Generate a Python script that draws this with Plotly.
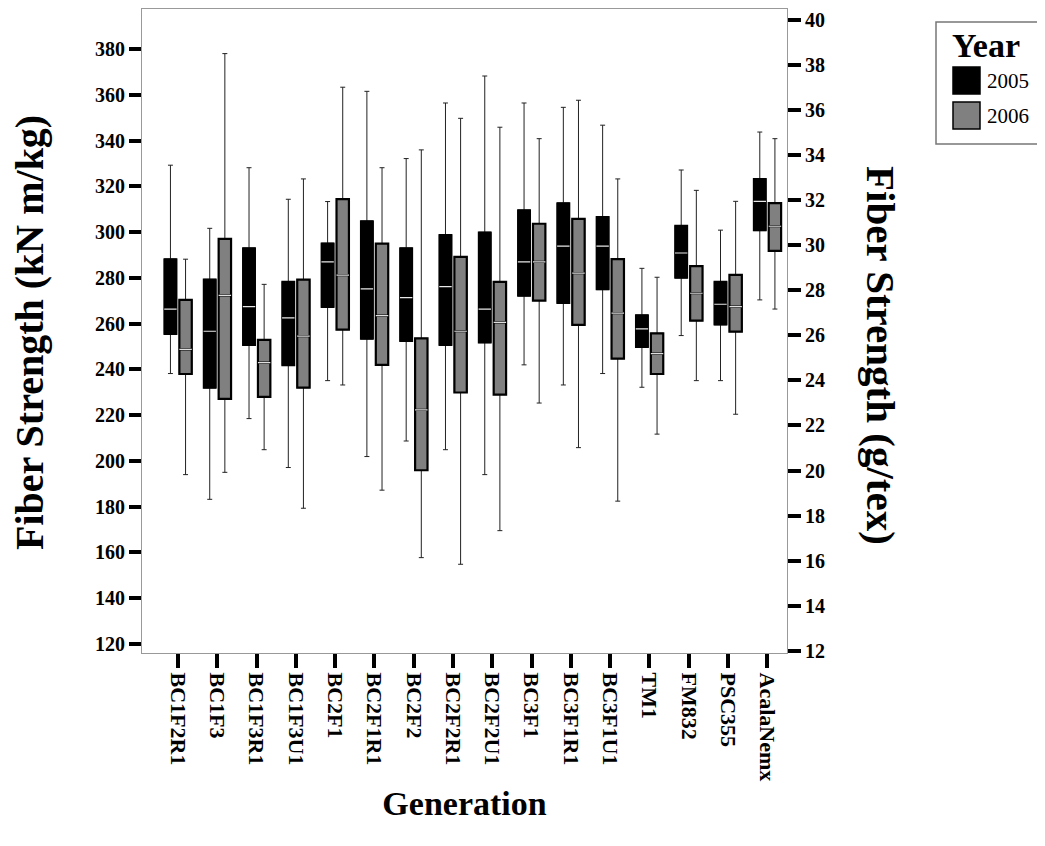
import plotly.graph_objects as go

# ---------------- data (kN m/kg) ----------------
generations = ["BC1F2R1", "BC1F3", "BC1F3R1", "BC1F3U1", "BC2F1", "BC2F1R1", "BC2F2",
               "BC2F2R1", "BC2F2U1", "BC3F1", "BC3F1R1", "BC3F1U1", "TM1", "FM832",
               "PSC355", "AcalaNemx"]

upper_2005 = [329.3, 301.7, 328.2, 314.4, 313.4, 361.6, 332.2, 356.5, 368.3, 356.5, 354.6, 346.8, 284.2, 327.2, 300.9, 343.8]
q3_2005    = [288.3, 279.4, 293.1, 278.4, 295.2, 304.9, 293.1, 298.9, 300.0, 309.7, 312.8, 306.8, 263.8, 302.9, 278.4, 323.4]
med_2005   = [266.4, 256.7, 267.5, 262.5, 287.0, 275.2, 271.4, 276.2, 266.4, 287.0, 293.9, 293.9, 257.7, 290.9, 268.5, 313.5]
q1_2005    = [255.4, 231.9, 250.6, 241.7, 267.2, 253.3, 252.3, 250.6, 251.7, 272.1, 268.9, 274.9, 249.7, 280.0, 259.5, 300.7]
lower_2005 = [238.2, 183.2, 218.5, 197.1, 235.1, 201.9, 208.7, 204.9, 194.0, 242.0, 233.2, 238.2, 232.2, 254.8, 235.1, 270.4]

upper_2006 = [288.2, 378.1, 277.2, 323.3, 363.4, 328.2, 336.0, 349.8, 345.9, 340.9, 357.7, 323.3, 280.3, 318.3, 313.5, 340.9]
q3_2006    = [270.4, 297.1, 252.9, 279.3, 314.5, 295.0, 253.6, 289.2, 278.3, 303.7, 305.8, 288.2, 255.8, 285.2, 281.3, 312.7]
med_2006   = [248.8, 272.4, 243.0, 254.6, 281.2, 263.5, 222.3, 256.7, 260.6, 287.0, 282.1, 264.6, 246.9, 273.3, 267.5, 302.6]
q1_2006    = [238.0, 227.1, 228.0, 232.0, 257.4, 242.0, 195.9, 229.9, 229.0, 270.1, 259.5, 244.7, 238.0, 261.3, 256.5, 291.8]
lower_2006 = [194.0, 195.0, 204.9, 179.3, 233.2, 187.2, 157.7, 154.8, 169.5, 225.3, 205.8, 182.4, 211.7, 235.1, 220.4, 266.4]

left_ticks = list(range(120, 381, 20))
right_ticks = list(range(12, 41, 2))
years = ["2005", "2006"]

FONT = "Liberation Serif"
W, H = 1045, 846
OFF = 8  # page offset of the figure in the browser window
ML, MR, MT, MB = 134, 266, 1, 201
PW, PH = W - ML - MR, H - MT - MB


def px(x):
    """screen x -> paper x"""
    return (x - OFF - ML) / PW


def py(y):
    """screen y -> paper y"""
    return (H - MB - (y - OFF)) / PH


series = {
    "2005": dict(up=upper_2005, q3=q3_2005, med=med_2005, q1=q1_2005, lo=lower_2005,
                 fill="#000000", lw=1.5, medc="#e8e8e8"),
    "2006": dict(up=upper_2006, q3=q3_2006, med=med_2006, q1=q1_2006, lo=lower_2006,
                 fill="#808080", lw=2.2, medc="#e0e0e0"),
}

fig = go.Figure()

# whiskers
for yr in years:
    s = series[yr]
    fig.add_trace(go.Box(
        x=generations, q1=s["q1"], median=s["med"], q3=s["q3"],
        lowerfence=s["lo"], upperfence=s["up"],
        offsetgroup=yr, name=yr, showlegend=False,
        fillcolor="rgba(0,0,0,0)", line=dict(color="#222222", width=1),
        whiskerwidth=0.4, boxpoints=False, hoverinfo="skip"))

# boxes
for yr in years:
    s = series[yr]
    fig.add_trace(go.Box(
        x=generations, q1=s["q1"], median=s["med"], q3=s["q3"],
        lowerfence=s["q1"], upperfence=s["q3"],
        offsetgroup=yr, name=yr, showlegend=False,
        fillcolor=s["fill"], line=dict(color="#000000", width=s["lw"]),
        whiskerwidth=0, boxpoints=False))

# median lines
for yr in years:
    s = series[yr]
    fig.add_trace(go.Box(
        x=generations, q1=s["med"], median=s["med"], q3=s["med"],
        lowerfence=s["med"], upperfence=s["med"],
        offsetgroup=yr, name=yr, showlegend=False,
        fillcolor="rgba(0,0,0,0)", line=dict(color=s["medc"], width=1.2),
        whiskerwidth=0, boxpoints=False, hoverinfo="skip"))

# dummy trace for the right axis
fig.add_trace(go.Scatter(x=[generations[0]], y=[None], yaxis="y2",
                         showlegend=False, hoverinfo="skip"))

ytickfont = dict(family=FONT, size=20, color="black", weight="bold")
xtickfont = dict(family=FONT, size=22, color="black", weight="bold")

fig.update_layout(
    width=W, height=H,
    margin=dict(l=ML, r=MR, t=MT, b=MB),
    paper_bgcolor="white", plot_bgcolor="white",
    boxmode="group", boxgap=0.23, boxgroupgap=0.18,
    showlegend=False,
    font=dict(family=FONT, color="black"),
    xaxis=dict(
        type="category", categoryorder="array", categoryarray=generations,
        tickangle=90, tickfont=xtickfont,
        ticks="outside", ticklen=14, tickwidth=4, tickcolor="black",
        showline=True, linecolor="#999999", linewidth=1.2, mirror=True,
        showgrid=False, zeroline=False,
        title=dict(text="Generation", font=dict(family=FONT, size=34, weight="bold"),
                   standoff=10),
    ),
    yaxis=dict(
        range=[116, 397.6], tickvals=left_ticks, tickfont=ytickfont,
        ticks="outside", ticklen=12, tickwidth=4, tickcolor="black",
        showline=True, linecolor="#999999", linewidth=1.2, mirror=True,
        showgrid=False, zeroline=False,
    ),
    yaxis2=dict(
        overlaying="y", side="right", anchor="x",
        range=[11.9, 40.49], tickvals=right_ticks, tickfont=ytickfont,
        ticks="outside", ticklen=13, tickwidth=4, tickcolor="black",
        showline=True, linecolor="#999999", linewidth=1.2,
        showgrid=False, zeroline=False,
    ),
)

# left axis title (reads bottom to top)
fig.add_annotation(text="<b>Fiber Strength (kN m/kg)</b>", xref="paper", yref="paper",
                   x=px(30), y=py(333), showarrow=False, textangle=-90,
                   font=dict(family=FONT, size=40, color="black"),
                   xanchor="center", yanchor="middle")

# right axis title (reads top to bottom)
fig.add_annotation(text="<b>Fiber Strength (g/tex)</b>", xref="paper", yref="paper",
                   x=px(881), y=py(355), showarrow=False, textangle=90,
                   font=dict(family=FONT, size=41, color="black"),
                   xanchor="center", yanchor="middle")

# legend (Year)
fig.add_shape(type="rect", xref="paper", yref="paper",
              x0=px(936), x1=px(1043), y0=py(144), y1=py(22),
              line=dict(color="#777777", width=1.5), fillcolor="white")
fig.add_annotation(text="<b>Year</b>", xref="paper", yref="paper",
                   x=px(950), y=py(46), showarrow=False, xanchor="left", yanchor="middle",
                   font=dict(family=FONT, size=34, color="black"))
for i, yr in enumerate(years):
    top = 67 + i * 35
    fig.add_shape(type="rect", xref="paper", yref="paper",
                  x0=px(953), x1=px(980), y0=py(top + 27), y1=py(top),
                  line=dict(color="black", width=1.5), fillcolor=series[yr]["fill"])
    fig.add_annotation(text=yr, xref="paper", yref="paper",
                       x=px(985), y=py(top + 14), showarrow=False,
                       xanchor="left", yanchor="middle",
                       font=dict(family=FONT, size=21, color="black"))

fig.write_html("out.html")
